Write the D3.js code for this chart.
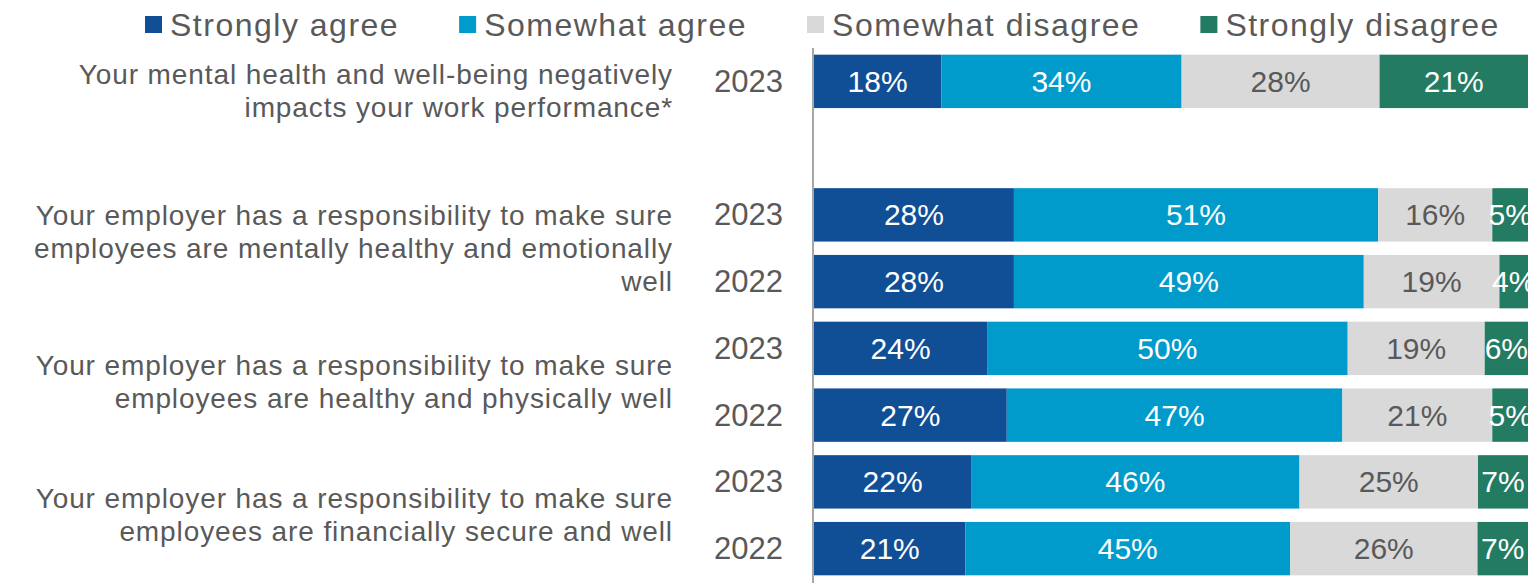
<!DOCTYPE html>
<html lang="en">
<head>
<meta charset="UTF-8">
<title>Employer responsibility for well-being</title>
<style>
    body { margin: 0; background: #fff; }
    svg { display: block; font-family: "Liberation Sans", Arial, sans-serif; }
    .txt { fill: #595959; }
</style>
</head>
<body>
<svg width="1536" height="583"></svg>
<script src="https://d3js.org/d3.v7.min.js"></script>
<script>
    // series, one value per bar row (top to bottom)
    const seriesNames = ["Strongly agree", "Somewhat agree", "Somewhat disagree", "Strongly disagree"];
    const seriesColors = ["#104E96", "#009BCB", "#D9D9D9", "#237B62"];
    const years = ["2023", "2023", "2022", "2023", "2022", "2023", "2022"];
    const rowGroup = [0, 1, 1, 2, 2, 3, 3];
    const rowSlot = [0, 2, 3, 4, 5, 6, 7]; // slot 1 is left empty
    const stronglyAgree = [18, 28, 28, 24, 27, 22, 21];
    const somewhatAgree = [34, 51, 49, 50, 47, 46, 45];
    const somewhatDisagree = [28, 16, 19, 19, 21, 25, 26];
    const stronglyDisagree = [21, 5, 4, 6, 5, 7, 7];
    const groupLines = [
        ["Your mental health and well-being negatively", "impacts your work performance*"],
        ["Your employer has a responsibility to make sure", "employees are mentally healthy and emotionally", "well"],
        ["Your employer has a responsibility to make sure", "employees are healthy and physically well"],
        ["Your employer has a responsibility to make sure", "employees are financially secure and well"]
    ];

    const values = [stronglyAgree, somewhatAgree, somewhatDisagree, stronglyDisagree];
    const rows = years.map((y, i) => {
        const v = values.map(s => s[i]);
        const total = d3.sum(v);
        let acc = 0;
        const segs = v.map((val, k) => {
            const s = {k: k, val: val, x0: acc / total, x1: (acc + val) / total};
            acc += val;
            return s;
        });
        return {year: y, group: rowGroup[i], slot: rowSlot[i], segs: segs};
    });

    const svg = d3.select("svg");
    const x = d3.scaleLinear().domain([0, 1]).range([814, 1528]);
    const y = d3.scaleBand().domain(d3.range(8)).range([48, 582]).paddingInner(0.2).paddingOuter(0.1);

    svg.append("defs").append("clipPath").attr("id", "plotclip")
        .append("rect").attr("x", 0).attr("y", 0).attr("width", 1531).attr("height", 583);

    // bars
    const rowG = svg.append("g").selectAll("g").data(rows).enter().append("g")
        .attr("transform", d => "translate(0," + y(d.slot) + ")");

    rowG.selectAll("rect").data(d => d.segs).enter().append("rect")
        .attr("x", d => x(d.x0))
        .attr("width", d => x(d.x1) - x(d.x0))
        .attr("height", y.bandwidth())
        .attr("fill", d => seriesColors[d.k]);

    rowG.append("g").attr("clip-path", "url(#plotclip)")
        .selectAll("text").data(d => d.segs).enter().append("text")
        .attr("x", d => (x(d.x0) + x(d.x1)) / 2)
        .attr("y", y.bandwidth() / 2)
        .attr("text-anchor", "middle")
        .attr("dominant-baseline", "central")
        .attr("font-size", 30)
        .attr("fill", d => d.k === 2 ? "#595959" : "#fff")
        .text(d => d.val + "%");

    // vertical axis line
    svg.append("line")
        .attr("x1", 813).attr("x2", 813)
        .attr("y1", 48).attr("y2", 583)
        .attr("stroke", "#A6A6A6").attr("stroke-width", 2);

    // year labels
    svg.append("g").selectAll("text").data(rows).enter().append("text")
        .attr("class", "txt")
        .attr("x", 783)
        .attr("y", d => y(d.slot) + y.bandwidth() / 2)
        .attr("text-anchor", "end")
        .attr("dominant-baseline", "central")
        .attr("font-size", 31)
        .text(d => d.year);

    // category labels
    const lineH = 33;
    groupLines.forEach((lines, g) => {
        const slots = rows.filter(r => r.group === g).map(r => y(r.slot) + y.bandwidth() / 2);
        let cy = d3.mean(slots);
        if (slots.length === 1) cy += 10;
        const t = svg.append("text").attr("class", "txt")
            .attr("text-anchor", "end")
            .attr("font-size", 28)
            .attr("letter-spacing", 0.9);
        lines.forEach((l, i) => {
            t.append("tspan")
                .attr("x", 673)
                .attr("y", cy + (i - (lines.length - 1) / 2) * lineH)
                .attr("dominant-baseline", "central")
                .text(l);
        });
    });

    // legend
    const leg = svg.append("g");
    let lx = 145;
    seriesNames.forEach((name, k) => {
        leg.append("rect").attr("x", lx).attr("y", 16).attr("width", 17).attr("height", 17)
            .attr("fill", seriesColors[k]);
        const t = leg.append("text").attr("class", "txt")
            .attr("x", lx + 25).attr("y", 25)
            .attr("dominant-baseline", "central")
            .attr("font-size", 32)
            .attr("letter-spacing", 1.5)
            .text(name);
        lx += 25 + t.node().getComputedTextLength() + 60;
    });
</script>
</body>
</html>
